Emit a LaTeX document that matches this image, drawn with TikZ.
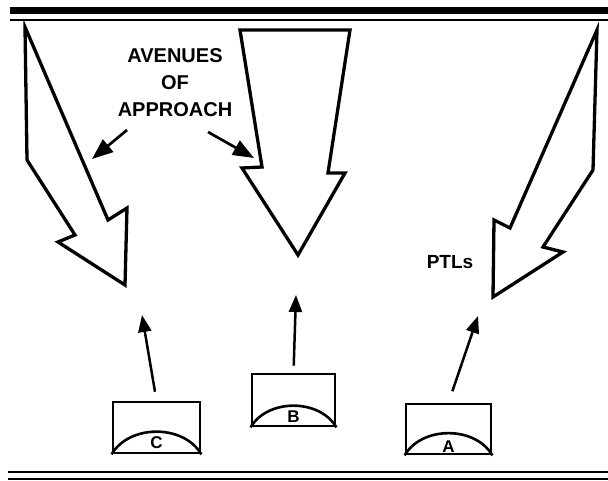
\documentclass[tikz,border=0pt]{standalone}
\usepackage{fontspec}
\setmainfont{Liberation Sans}
\usetikzlibrary{arrows.meta,calc}
\begin{document}
\begin{tikzpicture}[x=1pt,y=-1pt,
  bigarrow/.style={draw=black,line width=3.3pt,line join=miter,fill=white},
  unitbox/.style={draw=black,line width=2.8pt,minimum width=87pt,minimum height=51pt,inner sep=0pt},
  lbl/.style={font=\bfseries\fontsize{17}{18}\selectfont,inner sep=0pt},
  ptr/.style={line width=2.5pt,-{Triangle[length=17pt,width=13pt]}},
  callout/.style={line width=2.7pt,-{Triangle[length=21pt,width=16pt]}},
  rule/.style={draw=black}]
\useasboundingbox (0,0) rectangle (608,481);
% rules
\draw[rule,line width=7pt] (10,10.5) -- (608,10.5);
\draw[rule,line width=1.6pt] (10,20) -- (608,20);
\draw[rule,line width=2pt] (8,472) -- (608,472);
\draw[rule,line width=2pt] (8,479) -- (608,479);
% big arrows
\draw[bigarrow] (25,27) -- (27,160) -- (75,235) -- (58,242) -- (125,285) -- (127,208) -- (108,220) -- cycle;
\draw[bigarrow] (240,30) -- (350,30) -- (328,173) -- (345,173) -- (298,255) -- (242,168) -- (262,167) -- cycle;
\draw[bigarrow] (597,30) -- (593,170) -- (543,247) -- (563,252) -- (493,297) -- (494,220) -- (510,228) -- cycle;
% text
\node[align=center,font=\bfseries\fontsize{20}{27}\selectfont,inner sep=0pt] (aoa) at (175,83) {AVENUES\\OF\\APPROACH};
\node[font=\bfseries\fontsize{19}{22}\selectfont,inner sep=0pt] (ptl) at (450,262) {PTLs};
\coordinate (aL) at (127,130);
\coordinate (aLt) at (92,159);
\coordinate (aR) at (208,132);
\coordinate (aRt) at (254,158);
\draw[callout] (aL) -- (aLt);
\draw[callout] (aR) -- (aRt);
% units
\node[unitbox] (C) at (156.5,427.5) {};
\node[unitbox,minimum height=52pt,minimum width=83pt] (B) at (293.5,400) {};
\node[unitbox,minimum width=85pt,minimum height=50pt] (A) at (448.5,429) {};
\foreach \u in {A,B,C}{
  \draw[line width=2.6pt] (\u.south west) to[out=60,in=120] (\u.south east);
}
\node[lbl] at ([yshift=11.5pt]C.south) {C};
\node[lbl] at ([yshift=10.5pt]B.south) {B};
\node[lbl] at ([yshift=8.5pt]A.south) {A};
\coordinate (pC) at (142,315);
\coordinate (pB) at (296,295);
\coordinate (pA) at (478,316);
\draw[ptr,shorten <=9pt] (C.north) -- (pC);
\draw[ptr,shorten <=7pt] (B.north) -- (pB);
\draw[ptr,shorten <=12pt] (A.north) -- (pA);
\end{tikzpicture}
\end{document}
